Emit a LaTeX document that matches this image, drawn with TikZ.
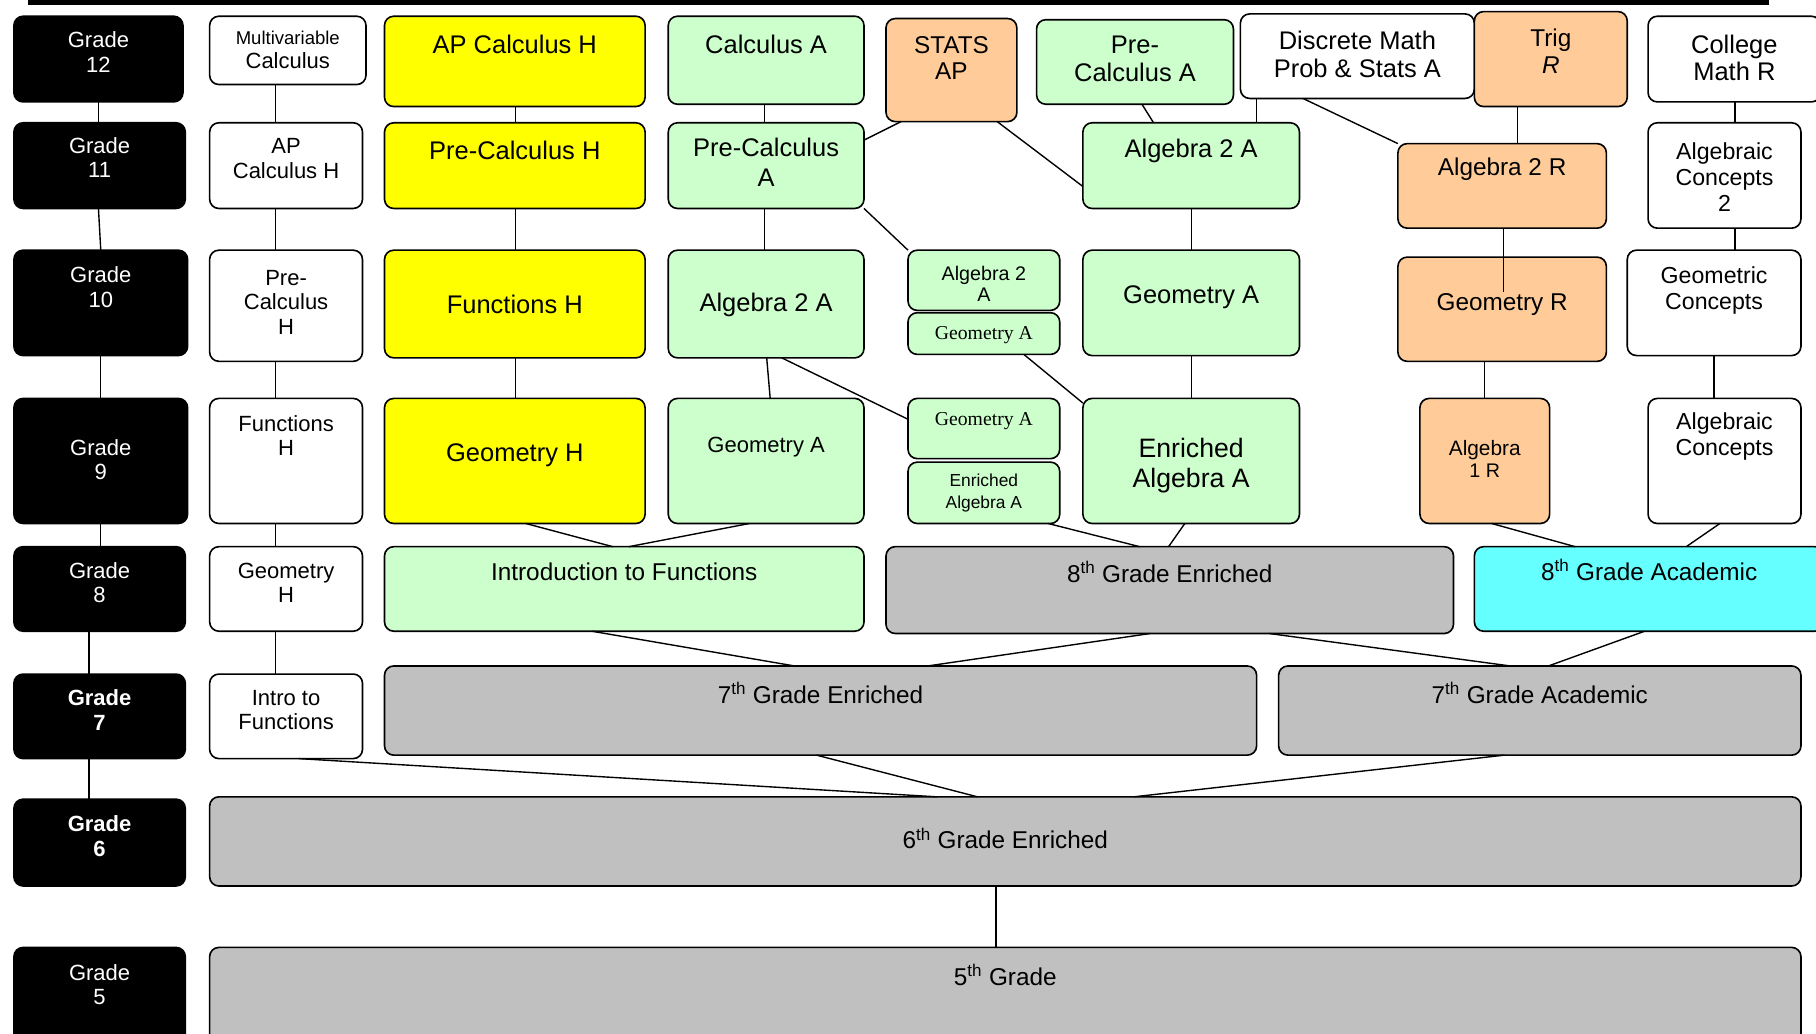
\documentclass[tikz,border=0pt]{standalone}
\usepackage{fontspec}
\setmainfont{Liberation Sans}
\newfontfamily\serifA{Liberation Serif}
\definecolor{cyel}{HTML}{FFFF00}
\definecolor{cgrn}{HTML}{CCFFCC}
\definecolor{corg}{HTML}{FFCC99}
\definecolor{cgry}{HTML}{C0C0C0}
\definecolor{ccyn}{HTML}{66FFFF}
\tikzset{
 cb/.style={draw=black, line width=1.4pt, rounded corners=8pt, inner sep=0pt, outer sep=0pt, rectangle},
 gr/.style={cb, fill=black},
 wh/.style={cb, fill=white},
 ye/.style={cb, fill=cyel},
 gn/.style={cb, fill=cgrn},
 og/.style={cb, fill=corg},
 gy/.style={cb, fill=cgry},
 cy/.style={cb, fill=ccyn},
 tx/.style={inner sep=0pt, align=center, text=black},
 wt/.style={inner sep=0pt, align=center, text=white},
 ln/.style={line width=1.2pt, draw=black},
 f15/.style={font=\fontsize{15}{19}\selectfont},
 f17/.style={font=\fontsize{17}{18}\selectfont},
 f18/.style={font=\fontsize{18}{19}\selectfont},
 f19/.style={font=\fontsize{19}{21}\selectfont},
 f19b/.style={font=\fontsize{19}{21}\selectfont\bfseries},
 f20/.style={font=\fontsize{20}{22.5}\selectfont},
 f21/.style={font=\fontsize{21}{23}\selectfont},
 f22/.style={font=\fontsize{22}{24}\selectfont},
 f22w/.style={font=\fontsize{22}{26}\selectfont},
 f23/.style={font=\fontsize{23}{26}\selectfont},
 s17/.style={font=\serifA\fontsize{17}{18}\selectfont},
}
% name, box style, x1, y1, x2, y2, text y, text style, text
\newcommand{\mkbox}[9]{%
  \node[#2, minimum width={#5-#3}, minimum height={#6-#4}, anchor=north west] (#1) at (#3,#4) {};
  \node[#8] (#1-t) at ({(#3+#5)/2},#7) {#9};}
\begin{document}
\begin{tikzpicture}[x=1pt,y=-1pt]
\useasboundingbox (0,0) rectangle (1568,892);
\fill[white] (0,0) rectangle (1568,892);
\fill[black] (24,0) rectangle (1527,4);
% grade column
\mkbox{g12}{gr}{12}{14}{158}{88}{45}{wt,f19}{Grade\\12}
\mkbox{g11}{gr}{12}{106}{160}{180}{136}{wt,f19}{Grade\\11}
\mkbox{g10}{gr}{12}{216}{162}{307}{248}{wt,f19}{Grade\\10}
\mkbox{g9}{gr}{12}{344}{162}{452}{397}{wt,f19}{Grade\\9}
\mkbox{g8}{gr}{12}{472}{160}{545}{503}{wt,f19}{Grade\\8}
\mkbox{g7}{gr}{12}{582}{160}{655}{613}{wt,f19b}{Grade\\7}
\mkbox{g6}{gr}{12}{690}{160}{765}{722}{wt,f19b}{Grade\\6}
\mkbox{g5}{gr}{12}{818}{160}{905}{850}{wt,f19}{Grade\\5}
% honors white column
\mkbox{mvc}{wh}{181}{14}{316}{73}{43}{tx,f19}{{\fontsize{16}{20}\selectfont Multivariable}\\Calculus}
\mkbox{apch}{wh}{181}{106}{313}{180}{137}{tx,f19}{AP\\Calculus H}
\mkbox{prech}{wh}{181}{216}{313}{312}{261}{tx,f19}{Pre-\\Calculus\\H}
\mkbox{funch}{wh}{181}{344}{313}{452}{376}{tx,f19}{Functions\\H}
\mkbox{geoh}{wh}{181}{472}{313}{545}{503}{tx,f19}{Geometry\\H}
\mkbox{itf}{wh}{181}{582}{313}{655}{613}{tx,f19}{Intro to\\Functions}
% yellow column
\mkbox{apcalc}{ye}{332}{14}{557}{92}{38}{tx,f22}{AP Calculus H}
\mkbox{precalch}{ye}{332}{106}{557}{180}{130}{tx,f22}{Pre-Calculus H}
\mkbox{funcH}{ye}{332}{216}{557}{309}{263}{tx,f22}{Functions H}
\mkbox{geomH}{ye}{332}{344}{557}{452}{393}{tx,f22}{Geometry H}
% green column
\mkbox{calcA}{gn}{577}{14}{746}{90}{38}{tx,f22}{Calculus A}
\mkbox{precalcA}{gn}{577}{106}{746}{180}{140}{tx,f22w}{Pre-Calculus\\A}
\mkbox{algA}{gn}{577}{216}{746}{309}{263}{tx,f22}{Algebra 2 A}
\mkbox{geoA}{gn}{577}{344}{746}{452}{386}{tx,f19}{Geometry A}
% stats and small boxes
\mkbox{stats}{og}{765}{16}{878}{105}{50}{tx,f21}{STATS\\AP}
\mkbox{salg}{gn}{784}{216}{915}{268}{245}{tx,f17}{Algebra 2\\A}
\mkbox{sgeoa}{gn}{784}{270}{915}{306}{289}{tx,s17}{Geometry A}
\mkbox{sgeob}{gn}{784}{344}{915}{396}{364}{tx,s17}{Geometry A}
\mkbox{senr}{gn}{784}{399}{915}{452}{426}{tx,f15}{Enriched\\Algebra A}
% second green column
\mkbox{pcA}{gn}{895}{17}{1065}{90}{51}{tx,f22}{Pre-\\Calculus A}
\mkbox{algB}{gn}{935}{106}{1122}{180}{130}{tx,f22}{Algebra 2 A}
\mkbox{geoB}{gn}{935}{216}{1122}{307}{257}{tx,f22}{Geometry A}
\mkbox{enrA}{gn}{935}{344}{1122}{452}{402}{tx,f23}{Enriched\\Algebra A}
% regular column
\mkbox{dm}{wh}{1071}{12}{1273}{85}{47}{tx,f22}{Discrete Math\\Prob \& Stats A}
\mkbox{trig}{og}{1273}{10}{1405}{92}{44}{tx,f21}{Trig\\\textit{R}}
\mkbox{algR}{og}{1207}{124}{1387}{197}{146}{tx,f21}{Algebra 2 R}
\mkbox{geoR}{og}{1207}{222}{1387}{312}{263}{tx,f21}{Geometry R}
\mkbox{alg1R}{og}{1226}{344}{1338}{452}{396}{tx,f18}{Algebra\\{\fontsize{17}{18}\selectfont 1 R}}
% concepts column
\mkbox{cm}{wh}{1423}{14}{1572}{88}{50}{tx,f22}{College\\Math R}
\mkbox{ac2}{wh}{1423}{106}{1555}{197}{153}{tx,f20}{Algebraic\\Concepts\\2}
\mkbox{gc}{wh}{1405}{216}{1555}{307}{251}{tx,f20}{Geometric\\Concepts}
\mkbox{ac}{wh}{1423}{344}{1555}{452}{377}{tx,f20}{Algebraic\\Concepts}
% grade 8, 7, 6, 5 rows
\mkbox{itf8}{gn}{332}{472}{746}{545}{494}{tx,f21}{Introduction to Functions}
\mkbox{e8}{gy}{765}{472}{1255}{547}{494}{tx,f21}{8\textsuperscript{th} Grade Enriched}
\mkbox{a8}{cy}{1273}{472}{1575}{545}{492}{tx,f21}{8\textsuperscript{th} Grade Academic}
\mkbox{e7}{gy}{332}{575}{1085}{652}{598}{tx,f21}{7\textsuperscript{th} Grade Enriched}
\mkbox{a7}{gy}{1104}{575}{1555}{652}{598}{tx,f21}{7\textsuperscript{th} Grade Academic}
\mkbox{e6}{gy}{181}{688}{1555}{765}{724}{tx,f21}{6\textsuperscript{th} Grade Enriched}
\mkbox{g5b}{gy}{181}{818}{1555}{905}{842}{tx,f21}{5\textsuperscript{th} Grade}
\coordinate (geoRin) at (1298,252);
% connectors: grade column
\draw[ln] (g12.south -| 85,0) -- (g11.north -| 85,0);
\draw[ln] (g11.south -| 85,0) -- (g10.north -| 87,0);
\draw[ln] (g10.south -| 87,0) -- (g9.north -| 87,0);
\draw[ln] (g9.south -| 87,0) -- (g8.north -| 87,0);
\draw[ln] (g8.south -| 77,0) -- (g7.north -| 77,0);
\draw[ln] (g7.south -| 77,0) -- (g6.north -| 77,0);
% honors white
\draw[ln] (mvc.south -| 238,0) -- (apch.north -| 238,0);
\draw[ln] (apch.south -| 238,0) -- (prech.north -| 238,0);
\draw[ln] (prech.south -| 238,0) -- (funch.north -| 238,0);
\draw[ln] (funch.south -| 238,0) -- (geoh.north -| 238,0);
\draw[ln] (geoh.south -| 238,0) -- (itf.north -| 238,0);
\draw[ln] (itf.south -| 258,0) -- (e6.north -| 809,0);
% yellow
\draw[ln] (apcalc.south -| 445,0) -- (precalch.north -| 445,0);
\draw[ln] (precalch.south -| 445,0) -- (funcH.north -| 445,0);
\draw[ln] (funcH.south -| 445,0) -- (geomH.north -| 445,0);
\draw[ln] (geomH.south -| 454,0) -- (itf8.north -| 529,0);
\draw[ln] (geoA.south -| 647,0) -- (itf8.north -| 543,0);
% green
\draw[ln] (calcA.south -| 660,0) -- (precalcA.north -| 660,0);
\draw[ln] (precalcA.south -| 660,0) -- (algA.north -| 660,0);
\draw[ln] (algA.south -| 662,0) -- (geoA.north -| 665,0);
\draw[ln] (algA.south -| 675,0) -- (sgeob.west |- 0,362);
\draw[ln] (precalcA.south east) -- (salg.north west);
\draw[ln] (precalcA.east |- 0,121) -- (stats.south -| 778,0);
\draw[ln] (stats.south -| 861,0) -- (algB.west |- 0,161);
\draw[ln] (sgeoa.south -| 884,0) -- (enrA.west |- 0,348);
\draw[ln] (senr.south -| 905,0) -- (e8.north -| 984,0);
\draw[ln] (enrA.south -| 1023,0) -- (e8.north -| 1009,0);
\draw[ln] (pcA.south -| 986,0) -- (algB.north -| 996,0);
\draw[ln] (algB.south -| 1029,0) -- (geoB.north -| 1029,0);
\draw[ln] (geoB.south -| 1029,0) -- (enrA.north -| 1029,0);
% regular
\draw[ln] (dm.south -| 1085,0) -- (algB.north -| 1085,0);
\draw[ln] (dm.south -| 1125,0) -- (algR.north west);
\draw[ln] (trig.south -| 1310,0) -- (algR.north -| 1310,0);
\draw[ln] (algR.south -| 1298,0) -- (geoRin);
\draw[ln] (geoR.south -| 1282,0) -- (alg1R.north -| 1282,0);
\draw[ln] (alg1R.south -| 1288,0) -- (a8.north -| 1360,0);
% concepts
\draw[ln] (cm.south -| 1498,0) -- (ac2.north -| 1498,0);
\draw[ln] (ac2.south -| 1498,0) -- (gc.north -| 1498,0);
\draw[ln] (gc.south -| 1480,0) -- (ac.north -| 1480,0);
\draw[ln] (ac.south -| 1485,0) -- (a8.north -| 1456,0);
% middle school
\draw[ln] (itf8.south -| 511,0) -- (e7.north -| 686,0);
\draw[ln] (e8.south -| 993,0) -- (e7.north -| 801,0);
\draw[ln] (e8.south -| 1096,0) -- (a7.north -| 1304,0);
\draw[ln] (a8.south -| 1420,0) -- (a7.north -| 1337,0);
\draw[ln] (e7.south -| 705,0) -- (e6.north -| 844,0);
\draw[ln] (a7.south -| 1299,0) -- (e6.north -| 979,0);
\draw[ln] (e6.south -| 860,0) -- (g5b.north -| 860,0);
\end{tikzpicture}
\end{document}
